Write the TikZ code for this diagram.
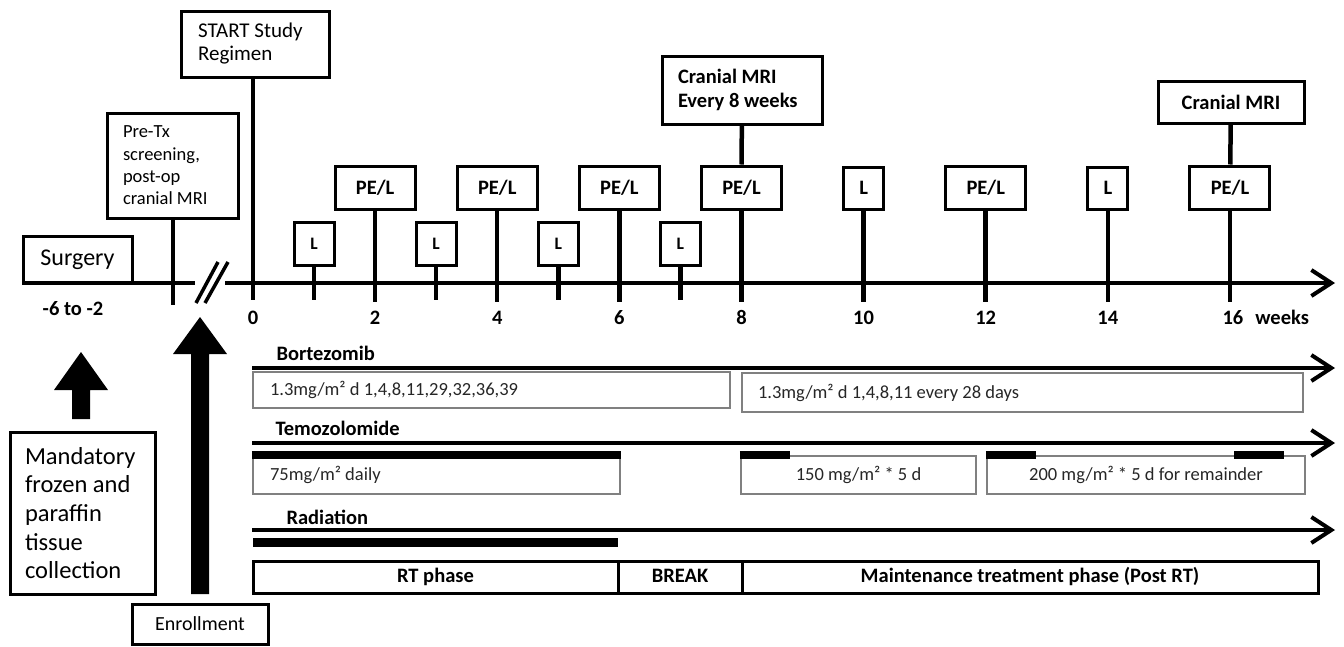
\documentclass[tikz,border=0pt]{standalone}
\usepackage{fontspec}
\setmainfont{Carlito}
\usetikzlibrary{arrows.meta}

% x position of a week on the time axis
\newcommand{\wk}[1]{253+61.06*#1}

\tikzset{
  evbox/.style={draw, line width=3pt, inner sep=0pt, minimum height=43pt,
    font=\fontsize{20.5}{24}\selectfont\bfseries},
  pelbox/.style={evbox, minimum width=80pt},
  lbox/.style={evbox, minimum width=40pt},
  smallL/.style={lbox, font=\fontsize{17.5}{20}\selectfont\bfseries},
  weektick/.style={line width=4.5pt},
  timeline/.style={line width=4pt},
  rowarrow/.style={line width=4pt, -{Straight Barb[length=20pt,width=26pt]}},
  dosebox/.style={draw=gray, line width=2.2pt, inner sep=0pt,
    font=\fontsize{18.5}{21}\selectfont, text=black!85},
  dosebar/.style={line width=8pt},
  weeklabel/.style={font=\fontsize{20.5}{24}\selectfont\bfseries,
    text height=14pt, text depth=0pt},
  druglabel/.style={anchor=west, font=\fontsize{20.5}{24}\selectfont\bfseries},
  phasecell/.style={draw, line width=3pt, inner sep=0pt, outer sep=0pt,
    minimum height=32pt, text height=14pt, text depth=4pt,
    font=\fontsize{20.5}{24}\selectfont\bfseries},
  plainbox/.style={draw, line width=3pt, inner ysep=0pt},
}

\begin{document}
\begin{tikzpicture}[x=1pt,y=-1pt]
  \useasboundingbox (0,0) rectangle (1344,646);

  % time axis with break
  \coordinate (ax0) at (23,283);
  \coordinate (brk0) at (195,283);
  \coordinate (brk1) at (225,283);
  \coordinate (ax1) at (1335,283);
  \draw[timeline] (ax0) -- (brk0);
  \draw[timeline, -{Straight Barb[length=20pt,width=26pt]}] (brk1) -- (ax1);
  \draw[line width=3.5pt] (196,303) -- (218,262);
  \draw[line width=3.5pt] (205,303) -- (228,262);

  % before treatment
  \node[plainbox, minimum width=109pt, minimum height=47pt, inner sep=0pt,
    font=\fontsize{24}{28}\selectfont] (surg) at (77.5,259.5) {Surgery};
  \node[weeklabel] (wsurg) at (73,308) {-6 to -2};
  \node[plainbox, minimum width=131pt, minimum height=105pt, inner xsep=16pt,
    text width=99pt, align=flush left, font=\fontsize{18.5}{22.3}\selectfont]
    (pretx) at (172.5,165.5) {Pre-Tx\\ screening,\\ post-op\\ cranial MRI};
  \coordinate (tpre) at (173,305);
  \draw[weektick] (pretx.south -| tpre) -- (tpre);

  % week 0
  \coordinate (t0) at (253,300);
  \node[plainbox, minimum width=148pt, minimum height=66pt, inner xsep=17pt,
    text width=114pt, align=flush left, font=\fontsize{21}{23}\selectfont]
    (start) at (255,44) {START Study\\ Regimen};
  \draw[weektick] (start.south -| t0) -- (t0);

  % visits
  \foreach \w in {1,3,5,7} {
    \coordinate (t\w) at ({\wk{\w}},300);
    \node[smallL] (vis\w) at ({\wk{\w}},243.5) {L};
    \draw[weektick] (vis\w) -- (t\w);
  }
  \foreach \w in {2,4,6,8,12,16} {
    \coordinate (t\w) at ({\wk{\w}},302);
    \node[pelbox] (vis\w) at ({\wk{\w}},187.5) {PE/L};
    \draw[weektick] (vis\w) -- (t\w);
  }
  \foreach \w in {10,14} {
    \coordinate (t\w) at ({\wk{\w}},302);
    \node[lbox, minimum height=42pt] (vis\w) at ({\wk{\w}},188) {L};
    \draw[weektick] (vis\w) -- (t\w);
  }
  \foreach \w in {0,2,...,14}
    \node[weeklabel] (lab\w) at ({\wk{\w}},317) {\w};
  \node[weeklabel, anchor=west] (lab16) at (1219,317) {16\hspace{12pt}weeks};

  % MRI
  \node[evbox, minimum width=160pt, minimum height=68pt, inner xsep=16pt,
    text width=128pt, align=flush left] (mri8) at (742,90) {Cranial MRI\\ Every 8 weeks};
  \draw[weektick] (mri8) -- (vis8);
  \node[evbox, minimum width=146pt, minimum height=42pt] (mri16) at (1231,102) {Cranial MRI};
  \draw[weektick] (mri16) -- (vis16);

  % Bortezomib
  \node[druglabel] (bzlab) at (273,353) {Bortezomib};
  \coordinate (bz0) at (252,368);
  \coordinate (bz1) at (1335,368);
  \draw[rowarrow] (bz0) -- (bz1);
  \node[dosebox, minimum width=477pt, minimum height=36pt, inner xsep=17pt,
    text width=443pt, align=flush left] (bzdose1) at (491.5,390) {1.3mg/m² d 1,4,8,11,29,32,36,39};
  \node[dosebox, minimum width=561pt, minimum height=39pt, inner xsep=16pt,
    text width=529pt, align=flush left] (bzdose2) at (1022.5,392.5) {1.3mg/m² d 1,4,8,11 every 28 days};

  % Temozolomide
  \node[druglabel] (tzlab) at (272,428) {Temozolomide};
  \coordinate (tz0) at (252,443);
  \coordinate (tz1) at (1335,443);
  \draw[rowarrow] (tz0) -- (tz1);
  \node[dosebox, minimum width=367pt, minimum height=38pt, inner xsep=17pt,
    text width=333pt, align=flush left] (tzdose1) at (436.5,475) {75mg/m² daily};
  \node[dosebox, minimum width=235pt, minimum height=38pt] (tzdose2) at (858.5,475) {150 mg/m² * 5 d};
  \node[dosebox, minimum width=318pt, minimum height=38pt] (tzdose3) at (1146,475) {200 mg/m² * 5 d for remainder};
  \draw[dosebar] (tzdose1.north west) -- (tzdose1.north east);
  \draw[dosebar] (tzdose2.north west) -- ++(50,0);
  \draw[dosebar] (tzdose3.north west) -- ++(50,0);
  \draw[dosebar] (tzdose3.north east) ++(-72,0) -- ++(50,0);

  % Radiation
  \node[druglabel] (rdlab) at (283,517) {Radiation};
  \coordinate (rd0) at (252,530);
  \coordinate (rd1) at (1335,530);
  \draw[rowarrow] (rd0) -- (rd1);

  % phases
  \node[phasecell, minimum width=365pt] (rt) at (435.5,577) {RT phase};
  \node[phasecell, minimum width=124pt, anchor=west] (brk) at (rt.east) {BREAK};
  \node[phasecell, minimum width=576pt, anchor=west] (mt) at (brk.east) {Maintenance treatment phase (Post RT)};
  \draw[dosebar, line width=9pt] ([yshift=18.5pt]rt.north west) -- ([yshift=18.5pt]rt.north east);

  % tissue and enrollment
  \node[plainbox, minimum width=145pt, minimum height=162pt, inner xsep=15pt,
    text width=115pt, align=flush left, font=\fontsize{24.5}{28.6}\selectfont]
    (mand) at (82.5,513) {Mandatory\\ frozen and\\ paraffin\\ tissue\\ collection};
  \fill (72,419) -- (72,390) -- (54,390) -- (81,352) -- (108,390) -- (90,390) -- (90,419) -- cycle;
  \node[plainbox, minimum width=136pt, minimum height=40pt, inner sep=0pt,
    font=\fontsize{20}{24}\selectfont] (enrol) at (200,624) {Enrollment};
  \fill (191,594) -- (191,354) -- (173,354) -- (200,317) -- (227,354) -- (209,354) -- (209,594) -- cycle;
\end{tikzpicture}
\end{document}
